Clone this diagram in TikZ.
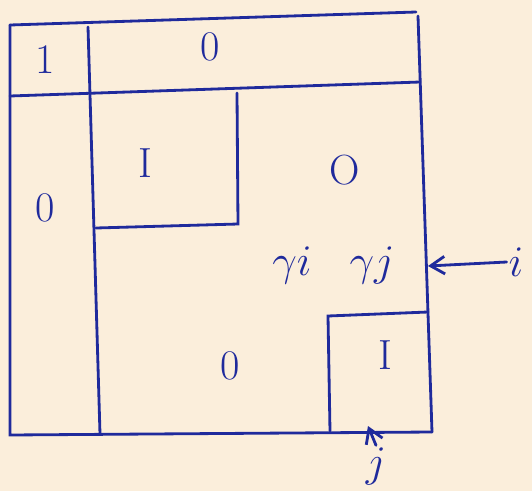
\documentclass[tikz,border=0pt]{standalone}
\usetikzlibrary{arrows.meta}
\definecolor{ink}{HTML}{1F2A9C}
\definecolor{paper}{HTML}{FBEEDB}
\tikzset{pen/.style={draw=ink,line width=1.6pt,line cap=round},
  lab/.style={text=ink,font=\fontsize{24}{28}\selectfont,inner sep=1pt}}
\begin{document}
\begin{tikzpicture}[x=0.02cm,y=-0.02cm]
    \fill[paper] (0,0) rectangle (532,491);
    \useasboundingbox (0,0) rectangle (532,491);
    \draw[pen] (10,25) -- (416,12);
    \draw[pen] (10,25) -- (10,435) -- (432,432);
    \draw[pen] (418,16) -- (432,432);
    \draw[pen] (10,96) -- (420,82);
    \draw[pen] (88,27) -- (100,434);
    \draw[pen] (96,228) -- (238,224) -- (237,93);
    \draw[pen] (330,431) -- (328,316) -- (428,312);
    \node[lab] (one) at (45,60) {1};
    \node[lab] (zt) at (210,47) {0};
    \node[lab] (zl) at (45,208) {0};
    \node[lab] (ia) at (145,163) {I};
    \node[lab] (zr) at (345,170) {O};
    \node[lab] (zb) at (230,366) {0};
    \node[lab] (ib) at (385,355) {I};
    \node[lab] (gi) at (292,265) {$\gamma i$};
    \node[lab] (gj) at (372,265) {$\gamma j$};
    \node[lab] (li) at (516,262) {$i$};
    \node[lab] (lj) at (376,466) {$j$};
    \coordinate (ei) at (428,266);
    \coordinate (ej) at (368,426);
    \draw[pen,-{Straight Barb[length=8pt,width=10pt]}] (li.west) -- (ei);
    \draw[pen,-{Straight Barb[length=8pt,width=10pt]}] (lj.north) -- (ej);
\end{tikzpicture}
\end{document}
